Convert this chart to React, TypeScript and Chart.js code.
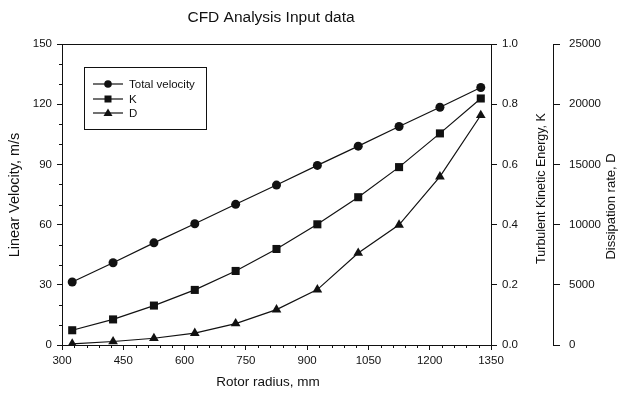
import React, { useEffect, useRef } from "react";
import { Chart, registerables } from "chart.js";

Chart.register(...registerables);

const radius = [325, 425, 525, 625, 725, 825, 925, 1025, 1125, 1225, 1325];
const totalVelocity = [31.4, 41.0, 50.9, 60.4, 70.1, 79.7, 89.5, 99.1, 108.9, 118.5, 128.3];
const kineticEnergy = [0.049, 0.085, 0.131, 0.183, 0.246, 0.319, 0.401, 0.491, 0.591, 0.703, 0.819];
const dissipation = [100, 290, 560, 980, 1780, 2940, 4600, 7640, 9980, 13980, 19080];

const titleText = "CFD Analysis Input data";
const xTitle = "Rotor radius, mm";
const yTitle = "Linear Velocity, m/s";
const kTitle = "Turbulent Kinetic Energy, K";
const dTitle = "Dissipation rate, D";
const legendLabels = ["Total velocity", "K", "D"];
const legendStyles = ["circle", "rect", "triangle"];

const FONT = "'Liberation Sans', Arial, Helvetica, sans-serif";
const INK = "#111";

const decorPlugin = {
  id: "decor",
  afterDraw(chart: any) {
    const { ctx, chartArea, scales } = chart;
    ctx.save();
    // top border
    ctx.strokeStyle = INK;
    ctx.lineWidth = 1;
    ctx.beginPath();
    ctx.moveTo(chartArea.left, chartArea.top + 0.5);
    ctx.lineTo(chartArea.right, chartArea.top + 0.5);
    ctx.stroke();

    // minor ticks
    const y = scales.y;
    ctx.beginPath();
    for (let v = 0; v <= 150; v += 10) {
      if (v % 30 === 0) continue;
      const py = Math.round(y.getPixelForValue(v)) + 0.5;
      ctx.moveTo(chartArea.left - 3, py);
      ctx.lineTo(chartArea.left, py);
    }
    const x = scales.x;
    for (let v = 300; v <= 1350; v += 30) {
      if ((v - 300) % 150 === 0) continue;
      const px = Math.round(x.getPixelForValue(v)) + 0.5;
      ctx.moveTo(px, chartArea.bottom);
      ctx.lineTo(px, chartArea.bottom + 3);
    }
    ctx.stroke();

    // title
    ctx.fillStyle = INK;
    ctx.font = `15.5px ${FONT}`;
    ctx.textAlign = "center";
    ctx.textBaseline = "middle";
    ctx.fillText(titleText, 271, 18);

    // x axis title
    ctx.font = `13.5px ${FONT}`;
    ctx.fillText(xTitle, 268, 382);

    // left axis title
    ctx.font = `14.5px ${FONT}`;
    ctx.save();
    ctx.translate(15, 195);
    ctx.rotate(-Math.PI / 2);
    ctx.fillText(yTitle, 0, 0);
    ctx.restore();

    // right axis titles (reading bottom to top)
    const mid = (chartArea.top + chartArea.bottom) / 2;
    ctx.font = `12.5px ${FONT}`;
    ctx.save();
    ctx.translate(542, mid - 6);
    ctx.rotate(-Math.PI / 2);
    ctx.fillText(kTitle, 0, 0);
    ctx.restore();
    ctx.font = `13px ${FONT}`;
    ctx.save();
    ctx.translate(611, mid + 12);
    ctx.rotate(-Math.PI / 2);
    ctx.fillText(dTitle, 0, 0);
    ctx.restore();

    // legend box
    const bx = 84, by = 67, bw = 122, bh = 62;
    ctx.strokeStyle = INK;
    ctx.lineWidth = 1;
    ctx.strokeRect(bx + 0.5, by + 0.5, bw, bh);
    const rows = [84, 99, 113];
    ctx.font = `11.5px ${FONT}`;
    ctx.textAlign = "left";
    for (let i = 0; i < 3; i++) {
      const ry = rows[i];
      ctx.beginPath();
      ctx.lineWidth = 1.2;
      ctx.moveTo(93, ry);
      ctx.lineTo(123, ry);
      ctx.stroke();
      ctx.fillStyle = INK;
      ctx.beginPath();
      if (legendStyles[i] === "circle") {
        ctx.arc(108, ry, 3.8, 0, Math.PI * 2);
      } else if (legendStyles[i] === "rect") {
        ctx.rect(108 - 3.5, ry - 3.5, 7, 7);
      } else {
        ctx.moveTo(108, ry - 4.5);
        ctx.lineTo(112.5, ry + 3);
        ctx.lineTo(103.5, ry + 3);
        ctx.closePath();
      }
      ctx.fill();
      ctx.fillText(legendLabels[i], 129, ry + 0.5);
    }
    ctx.restore();
  },
};

export default function App() {
  const ref = useRef<HTMLCanvasElement | null>(null);

  useEffect(() => {
    document.body.style.margin = "0";
    Chart.defaults.font.family = FONT;
    Chart.defaults.color = INK;
    const mk = (label: string, data: number[], style: string, r: number, axis: string) => ({
      label,
      data: radius.map((xv, i) => ({ x: xv, y: data[i] })),
      yAxisID: axis,
      borderColor: INK,
      backgroundColor: INK,
      borderWidth: 1.2,
      pointStyle: style,
      pointRadius: r,
      pointBorderWidth: 0,
      pointBackgroundColor: INK,
      tension: 0,
      fill: false,
    });
    const tickFont = { size: 11.5, family: FONT };
    const chart = new Chart(ref.current!, {
      type: "line",
      data: {
        datasets: [
          mk(legendLabels[0], totalVelocity, "circle", 4.5, "y"),
          mk(legendLabels[1], kineticEnergy, "rect", 5.7, "yK"),
          mk(legendLabels[2], dissipation, "triangle", 5.6, "yD"),
        ] as any,
      },
      options: {
        animation: false,
        responsive: false,
        layout: { padding: { top: 44, left: 0, right: 0, bottom: 0 } },
        plugins: { legend: { display: false }, title: { display: false }, tooltip: { enabled: false } },
        scales: {
          x: {
            type: "linear",
            min: 300,
            max: 1350,
            ticks: { stepSize: 150, maxRotation: 0, padding: 4, font: tickFont, color: INK, callback: (v: any) => String(v) },
            grid: { drawOnChartArea: false, drawTicks: true, tickLength: 5, color: INK },
            border: { display: true, color: INK, width: 1 },
            afterFit: (s: any) => { s.height = 53; },
          },
          y: {
            type: "linear",
            position: "left",
            min: 0,
            max: 150,
            ticks: { stepSize: 30, padding: 5, font: tickFont, color: INK, callback: (v: any) => String(v) },
            grid: { drawOnChartArea: false, drawTicks: true, tickLength: 5, color: INK },
            border: { display: true, color: INK, width: 1 },
            afterFit: (s: any) => { s.width = 62; },
          },
          yK: {
            type: "linear",
            position: "right",
            min: 0,
            max: 1,
            ticks: { stepSize: 0.2, padding: 5, font: tickFont, color: INK, callback: (v: any) => Number(v).toFixed(1) },
            grid: { drawOnChartArea: false, drawTicks: true, tickLength: 6, color: INK },
            border: { display: true, color: INK, width: 1 },
            afterFit: (s: any) => { s.width = 62; },
          },
          yD: {
            type: "linear",
            position: "right",
            min: 0,
            max: 25000,
            ticks: { stepSize: 5000, padding: 9, font: tickFont, color: INK, callback: (v: any) => String(v) },
            grid: { drawOnChartArea: false, drawTicks: true, tickLength: 7, color: INK },
            border: { display: true, color: INK, width: 1 },
            afterFit: (s: any) => { s.width = 72; },
          },
        },
      } as any,
      plugins: [decorPlugin],
    });
    return () => chart.destroy();
  }, []);

  return (
    <div style={{ position: "absolute", left: 0, top: 0, width: 625, height: 398, background: "#fff" }}>
      <canvas ref={ref} width={625} height={398} style={{ display: "block", width: 625, height: 398 }} />
    </div>
  );
}
